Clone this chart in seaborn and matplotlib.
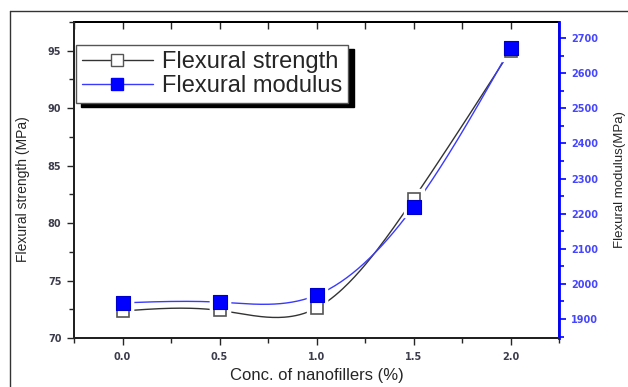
import numpy as np
import pandas as pd
import matplotlib
matplotlib.use("Agg")
import matplotlib.pyplot as plt
import seaborn as sns
from matplotlib.lines import Line2D
from matplotlib.ticker import MultipleLocator, FormatStrFormatter, NullFormatter

# values
conc = [0.0, 0.5, 1.0, 1.5, 2.0]
strength = [72.35, 72.4, 72.6, 82.1, 95.0]
modulus = [1946, 1948, 1968, 2220, 2672]


def natural_spline(x, y, n=200):
    # smooth connector like Origin's "spline" line style
    x = np.asarray(x, float)
    y = np.asarray(y, float)
    k = len(x)
    h = np.diff(x)
    A = np.zeros((k, k))
    b = np.zeros(k)
    A[0, 0] = A[-1, -1] = 1
    for i in range(1, k - 1):
        A[i, i - 1] = h[i - 1]
        A[i, i] = 2 * (h[i - 1] + h[i])
        A[i, i + 1] = h[i]
        b[i] = 6 * ((y[i + 1] - y[i]) / h[i] - (y[i] - y[i - 1]) / h[i - 1])
    M = np.linalg.solve(A, b)
    xs = np.linspace(x[0], x[-1], n)
    idx = np.clip(np.searchsorted(x, xs) - 1, 0, k - 2)
    x0, x1 = x[idx], x[idx + 1]
    hh = x1 - x0
    t0, t1 = x1 - xs, xs - x0
    ys = (M[idx] * t0 ** 3 + M[idx + 1] * t1 ** 3) / (6 * hh) \
        + (y[idx] / hh - M[idx] * hh / 6) * t0 \
        + (y[idx + 1] / hh - M[idx + 1] * hh / 6) * t1
    return xs, ys


sns.set_theme(style="ticks")
plt.rcParams["font.family"] = ["Liberation Sans", "DejaVu Sans"]

fig = plt.figure(figsize=(6.28, 3.87), dpi=100)
ax = fig.add_axes([74 / 628, 49 / 387, 485 / 628, 316 / 387])
ax2 = ax.twinx()

blue = "#0000ff"
gray = "#333333"
tick_font = {"family": "DejaVu Sans", "weight": "bold", "size": 7}

df = pd.DataFrame({"conc": conc, "strength": strength, "modulus": modulus})
xs, ys = natural_spline(conc, strength)
xm, ym = natural_spline(conc, modulus)

sns.lineplot(x=xs, y=ys, ax=ax, color=gray, lw=1.0, zorder=2)
sns.lineplot(x=xm, y=ym, ax=ax2, color="#3a3aff", lw=1.0, zorder=2)

# markers all live on the twin axes so both sets sit above both lines;
# white pads make the lines stop short of the markers
ax2.plot(df["conc"], df["strength"], ls="none", marker="s", ms=15,
         mfc="white", mec="white", zorder=3, transform=ax.transData)
ax2.plot(df["conc"], df["modulus"], ls="none", marker="s", ms=15,
         mfc="white", mec="white", zorder=3)
ax2.plot(df["conc"], df["strength"], ls="none", marker="s", ms=9,
         mfc="white", mec="#555555", mew=1.2, zorder=4, transform=ax.transData)
sns.scatterplot(data=df, x="conc", y="modulus", ax=ax2, marker="s", s=95,
                color=blue, edgecolor="#0000cc", linewidth=0.8, zorder=5)

ax.set_xlim(-0.25, 2.25)
ax.set_ylim(70, 97.5)
ax2.set_ylim(1846, 2746)

ax.xaxis.set_major_locator(MultipleLocator(0.5))
ax.xaxis.set_minor_locator(MultipleLocator(0.25))
ax.xaxis.set_major_formatter(FormatStrFormatter("%.1f"))
ax.yaxis.set_major_locator(MultipleLocator(5))
ax.yaxis.set_minor_locator(MultipleLocator(2.5))
ax2.yaxis.set_major_locator(MultipleLocator(100))
ax2.yaxis.set_minor_locator(MultipleLocator(50))

ax.tick_params(axis="both", which="major", length=5, width=1, labelcolor="#3c3c4c",
               direction="out", pad=4)
ax.tick_params(axis="both", which="minor", length=3.5, width=1, direction="out")
ax.tick_params(axis="x", which="major", pad=5)
ax2.tick_params(axis="y", which="major", length=5, width=1.2, colors=blue,
                labelcolor="#4646ff")
ax2.tick_params(axis="y", which="minor", length=3.5, width=1.2, colors=blue)
for lab in ax.get_xticklabels() + ax.get_yticklabels() + ax2.get_yticklabels():
    lab.set_fontproperties(tick_font)

# top axis: inward ticks, no labels
top = ax.secondary_xaxis("top")
top.xaxis.set_major_locator(MultipleLocator(0.5))
top.xaxis.set_minor_locator(MultipleLocator(0.25))
top.xaxis.set_major_formatter(NullFormatter())
top.tick_params(which="both", direction="in", length=5, width=1)
top.spines["top"].set_linewidth(1.4)
top.spines["top"].set_color("black")

for s in ["left", "bottom", "top"]:
    ax.spines[s].set_linewidth(1.4)
    ax.spines[s].set_color("black")
ax2.spines["right"].set_color(blue)
ax2.spines["right"].set_linewidth(2)
ax2.spines["top"].set_visible(False)

ax.set_xlabel("Conc. of nanofillers (%)", fontsize=12)
ax.xaxis.set_label_coords(0.5, -0.095)
ax.set_ylabel("Flexural strength (MPa)", fontsize=10)
ax.yaxis.set_label_coords(-0.091, 0.47)
ax2.set_ylabel("Flexural modulus(MPa)", fontsize=9.5, labelpad=12)

handles = [
    Line2D([], [], color=gray, lw=1, marker="s", ms=8, mfc="white", mec="#555555"),
    Line2D([], [], color="#3a3aff", lw=1, marker="s", ms=8, mfc=blue, mec=blue),
]
leg = ax2.legend(handles, ["Flexural strength", "Flexural modulus"],
                 loc="upper left", bbox_to_anchor=(0.004, 0.927),
                 borderaxespad=0, fontsize=17, handlelength=3.0,
                 handletextpad=0.4, labelspacing=0.08, borderpad=0.25,
                 fancybox=False, edgecolor="#555555", framealpha=1,
                 shadow={"ox": 4, "oy": -3, "color": "black", "alpha": 1})
leg.get_frame().set_linewidth(1)

# outer frame of the exported picture
fig.add_artist(Line2D([10 / 628, 10 / 628], [0, 1 - 10.5 / 387],
                      transform=fig.transFigure, color=gray, lw=1))
fig.add_artist(Line2D([10 / 628, 1], [1 - 10.5 / 387, 1 - 10.5 / 387],
                      transform=fig.transFigure, color=gray, lw=1))

fig.savefig("out.png", dpi=100)
